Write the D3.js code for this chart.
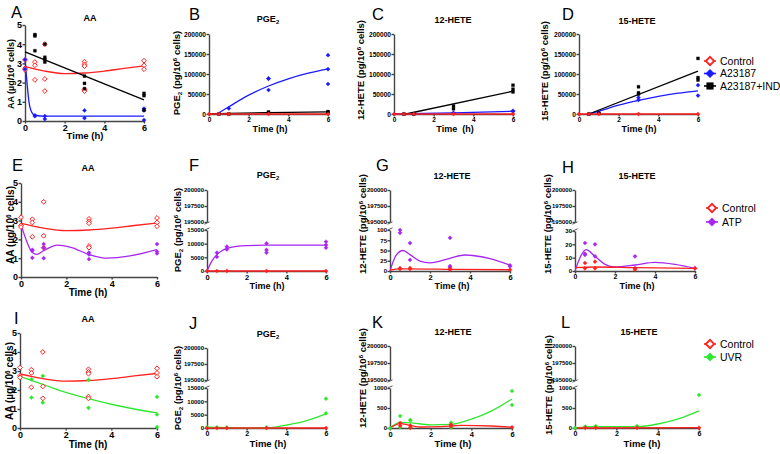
<!DOCTYPE html>
<html><head><meta charset="utf-8">
<script src="https://cdn.jsdelivr.net/npm/d3@7"></script>
<style>
body{margin:0;background:#fff}
svg{display:block}
text{font-family:"Liberation Sans",Arial,sans-serif}
</style>
</head><body>
<svg id="fig" width="780" height="454"></svg>
<script>
// ---- data (time in h) ----
const xTicks = [0, 2, 4, 6];

// AA (ug/10^6 cells)
const aaControl = [[0,3.18],[0,2.74],[0,2.66],[0.5,3.07],[0.5,2.9],[0.5,2.14],[1,4.0],[1,2.19],[1,1.56],[3,3.09],[3,2.95],[3,2.86],[3,1.65],[3,1.56],[6,3.14],[6,2.9],[6,2.7]];
const aaControlFit = [[0,2.85],[1,2.6],[2,2.47],[3,2.5],[4,2.6],[5,2.74],[6,2.87]];
const aaA23187 = [[0,3.2],[0,2.7],[0.5,0.3],[0.5,0.25],[1,0.25],[1,0.1],[3,0.55],[3,0.15],[6,0.65],[6,0.55],[6,0.05]];
const aaA23187Fit = [[0,3.2],[0.1,2.0],[0.2,1.0],[0.3,0.55],[0.5,0.3],[1,0.25],[6,0.25]];
const aaInd = [[0.5,4.5],[0.5,4.43],[0.5,3.66],[1,4.0],[1,3.32],[1,3.2],[1,3.07],[3,2.34],[3,1.96],[3,1.68],[6,1.44],[6,1.32],[6,0.57]];
const aaIndFit = [[0,3.6],[6,1.1]];
const aaAtp = [[0.5,1.45],[0.5,1.4],[0.5,1.02],[1,1.75],[1,1.55],[1,1.0],[3,1.3],[3,1.2],[3,0.95],[6,1.75],[6,1.35],[6,1.25]];
const aaAtpFit = [[0,2.8],[0.25,1.9],[0.5,1.3],[0.7,1.2],[1,1.4],[1.6,1.7],[2.2,1.58],[3,1.2],[3.8,1.0],[4.8,1.12],[6,1.45]];
const aaUvr = [[0.5,2.56],[0.5,1.6],[1,2.74],[1,1.34],[3,2.53],[3,1.06],[6,1.64],[6,0.71],[6,0.05]];
const aaUvrFit = [[0,2.72],[1,2.3],[2,1.88],[3,1.55],[4,1.25],[5,1.0],[6,0.8]];

// zero control used in eicosanoid panels
const zeroControl = [[0,0],[0.5,0],[1,0],[3,0],[6,0]];
const zeroFit = [[0,0],[6,0]];

// PGE2 (pg/10^6 cells)
const pgeA23187 = [[0.5,0],[1,14000],[3,89000],[3,88000],[3,60000],[6,147000],[6,112000],[6,75000]];
const pgeA23187Fit = [[0.4,0],[1,18000],[2,47000],[3,70000],[4,88000],[5,102000],[6,113000]];
const pgeInd = [[0.5,0],[1,0],[3,5000],[3,3000],[6,6000],[6,4000]];
const pgeIndFit = [[0,0],[1,1500],[3,3500],[6,5500]];
const pgeAtp = [[0.5,6700],[0.5,5200],[1,8900],[1,7900],[3,10100],[3,7700],[3,6700],[6,10700],[6,9500],[6,8500]];
const pgeAtpFit = [[0,0],[0.25,3700],[0.5,6000],[0.75,7400],[1,8200],[1.5,9000],[2,9300],[3,9450],[6,9500]];
const pgeUvr = [[0,300],[0.5,200],[1,200],[3,200],[6,11000],[6,5500]];
const pgeUvrFit = [[0,300],[1,150],[2,50],[3,0],[4,1100],[5,2700],[6,5300]];

// 12-HETE
const h12A23187 = [[0.5,0],[1,0],[3,3000],[6,8000],[6,6000]];
const h12A23187Fit = [[0,0],[3,3000],[6,7000]];
const h12Ind = [[0.5,0],[1,0],[3,20000],[3,13000],[6,72000],[6,62000],[6,55000]];
const h12IndFit = [[0.6,0],[6,57000]];
const h12AtpControl = [[0.5,7],[0.5,5],[1,7],[1,5],[3,5],[3,3],[6,3]];
const h12AtpControlFit = [[0,2],[0.5,5],[1,5],[3,4],[6,3]];
const h12Atp = [[0.5,100],[0.5,93],[1,68],[1,27],[3,81],[3,12],[3,9],[6,14],[6,11]];
const h12AtpFit = [[0,0],[0.3,38],[0.65,50],[1,40],[1.5,24],[2,20],[3,31],[3.75,39],[5,30],[6,14]];
const h12UvrControl = [[0.5,125],[0.5,58],[1,58],[1,5],[3,83],[3,42],[6,17]];
const h12UvrControlFit = [[0,0],[0.5,110],[1,65],[1.5,25],[2.5,35],[3.5,65],[5,50],[6,20]];
const h12Uvr = [[0,0],[0.5,300],[0.5,20],[1,200],[1,190],[1,10],[3,133],[3,10],[6,925],[6,575]];
const h12UvrFit = [[0,0],[0.5,140],[1,130],[2,80],[3,90],[4,220],[5,430],[6,725]];

// 15-HETE
const h15A23187 = [[0.5,0],[1,3000],[3,41000],[3,35000],[6,72000],[6,46000]];
const h15A23187Fit = [[0.5,0],[1,7000],[2,22000],[3,34000],[4,44000],[5,52000],[6,58000]];
const h15Ind = [[0.5,0],[1,2000],[3,68000],[3,53000],[3,50000],[6,139000],[6,91000],[6,85000]];
const h15IndFit = [[0.5,0],[6,107000]];
const h15AtpControl = [[0.5,6],[0.5,2],[1,7],[1,2],[3,2],[3,1],[6,2]];
const h15AtpControlFit = [[0,2.5],[1,3],[3,2.5],[6,2]];
const h15Atp = [[0.5,21],[0.5,13],[0.5,12],[1,20],[1,11],[3,11],[3,2],[6,2]];
const h15AtpFit = [[0,0],[0.25,10],[0.55,16],[1,11],[1.5,5],[2,3],[3,4.5],[4,6.5],[5,5],[6,2]];
const h15UvrControl = [[0.5,5],[1,5],[3,5],[6,5]];
const h15UvrControlFit = [[0,0],[6,10]];
const h15Uvr = [[0,0],[0.5,35],[0.5,10],[1,50],[1,20],[3,50],[3,20],[6,825]];
const h15UvrFit = [[0,0],[0.5,30],[1,35],[3,35],[4,100],[5,230],[6,430]];

// axis ticks
const upperTicks = [195000, 197500, 200000];
const fullTicks = [0, 50000, 100000, 150000, 200000];
const aaTicks = [0, 1, 2, 3, 4, 5];

const RED = '#ff2020', BLUE = '#1a1aff', BLACK = '#000', PURPLE = '#a726f0', GREEN = '#2ee82e';

const svg = d3.select('#fig');

function shapePath(shape, r) {
  if (shape === 'square') return `M${-r},${-r}H${r}V${r}H${-r}Z`;
  return `M0,${-r}L${r},0L0,${r}L${-r},0Z`;
}

function richText(sel, parts) {
  parts.forEach(p => {
    const t = sel.append('tspan').text(p[0]);
    if (p[1] === 'sup') t.attr('font-size', '0.65em').attr('dy', '-0.45em');
    if (p[1] === 'sub') t.attr('font-size', '0.65em').attr('dy', '0.3em');
    if (p[1] === 'back-sup') t.attr('dy', '0.3em');
    if (p[1] === 'back-sub') t.attr('dy', '-0.2em');
  });
}

function unitParts(name, unit) {
  if (name === 'PGE2') return [['PGE'], ['2','sub'], [' (' + unit + '/10', 'back-sub'], ['6','sup'], [' cells)', 'back-sup']];
  return [[name + ' (' + unit + '/10'], ['6','sup'], [' cells)', 'back-sup']];
}

function panel(c) {
  const g = svg.append('g');
  const x = d3.scaleLinear().domain([0, 6]).range([c.x0, c.x1]);
  let y;
  if (c.lowMax !== undefined) {
    y = d3.scaleLinear().domain([0, c.lowMax]).range(c.lowRange).clamp(true);
    const hi = d3.scaleLinear().domain([195000, 200000]).range(c.upRange);
    const ya = g.append('g').attr('transform', `translate(${c.x0},0)`)
      .call(d3.axisLeft(y).tickValues(c.lowTicks).tickSize(2.5).tickSizeOuter(0).tickFormat(d3.format('d')));
    const yb = g.append('g').attr('transform', `translate(${c.x0},0)`)
      .call(d3.axisLeft(hi).tickValues(upperTicks).tickSize(2.5).tickSizeOuter(0).tickFormat(d3.format('d')));
    [ya, yb].forEach(a => {
      a.selectAll('text').attr('font-size', c.yfs).attr('font-weight', 'bold').attr('x', -3);
    });
    // break marks
    [c.upRange[0] + 1, c.lowRange[1] - 1].forEach(yy => {
      g.append('line').attr('x1', c.x0 - 2.5).attr('x2', c.x0 + 2.5)
        .attr('y1', yy + 1.2).attr('y2', yy - 1.2).attr('stroke', '#555').attr('stroke-width', 1);
    });
  } else {
    y = d3.scaleLinear().domain(c.yDomain).range(c.yRange);
    const ya = g.append('g').attr('transform', `translate(${c.x0},0)`)
      .call(d3.axisLeft(y).tickValues(c.yTicks).tickSize(2.5).tickSizeOuter(0).tickFormat(d3.format('d')));
    ya.selectAll('text').attr('font-size', c.yfs).attr('font-weight', 'bold').attr('x', -3);
  }
  const xa = g.append('g').attr('transform', `translate(0,${c.baseY})`)
    .call(d3.axisBottom(x).tickValues(xTicks).tickSize(2.5).tickSizeOuter(0).tickFormat(d3.format('d')));
  xa.selectAll('text').attr('font-size', c.xfs).attr('font-weight', 'bold').attr('y', 3.5);
  g.selectAll('.domain, .tick line').attr('stroke', '#444').attr('stroke-width', 1.4);

  const line = d3.line().x(d => x(d[0])).y(d => y(d[1])).curve(d3.curveMonotoneX);
  c.series.forEach(s => {
    g.append('path').attr('d', line(s.fit)).attr('fill', 'none')
      .attr('stroke', s.color).attr('stroke-width', 1.3);
  });
  c.series.forEach(s => {
    g.selectAll(null).data(s.pts).enter().append('path')
      .attr('transform', d => `translate(${x(d[0])},${y(d[1])})`)
      .attr('d', shapePath(s.shape, s.open ? 2.4 : (s.shape === 'square' ? 1.5 : 2.1)))
      .attr('fill', s.open ? '#fff' : s.color)
      .attr('stroke', s.color).attr('stroke-width', s.open ? 1 : 0.3);
  });

  // titles and labels
  const t = g.append('text').attr('x', c.title[1]).attr('y', c.title[2])
    .attr('text-anchor', 'middle').attr('font-size', 9).attr('font-weight', 'bold');
  if (c.title[0] === 'PGE2') richText(t, [['PGE'], ['2', 'sub']]); else t.text(c.title[0]);

  g.append('text').attr('x', c.time[0]).attr('y', c.time[1]).attr('text-anchor', 'middle')
    .attr('font-size', c.tfs).attr('font-weight', 'bold').attr('xml:space', 'preserve').text(c.timeText || 'Time (h)');

  const yl = g.append('text').attr('transform', `translate(${c.ylab[0]},${c.ylab[1]}) rotate(-90)`)
    .attr('text-anchor', 'middle').attr('font-size', c.ylfs).attr('font-weight', 'bold');
  richText(yl, unitParts(c.yname, c.unit));

  svg.append('text').attr('x', c.letter[1]).attr('y', c.letter[2]).attr('font-size', 16.5)
    .attr('font-weight', 'normal').text(c.letter[0]);
}

function legend(x0, y0, items) {
  items.forEach((it, i) => {
    const yy = y0 + i * it.dy;
    const g = svg.append('g');
    g.append('line').attr('x1', x0 - 6).attr('x2', x0 + 6).attr('y1', yy).attr('y2', yy)
      .attr('stroke', it.color).attr('stroke-width', 1.6);
    g.append('path').attr('transform', `translate(${x0},${yy})`)
      .attr('d', shapePath(it.shape, it.shape === 'square' ? 3.3 : 4.2))
      .attr('fill', it.open ? '#fff' : it.color).attr('stroke', it.color).attr('stroke-width', it.open ? 1.8 : 0.5);
    g.append('text').attr('x', x0 + 10).attr('y', yy + 3.8).attr('font-size', 10.5).text(it.label);
  });
}

const ctrlOpen = (pts, fit) => ({ pts, fit, color: RED, open: true });
const ctrlFill = (pts, fit) => ({ pts, fit, color: RED });

// ---- row 1 ----
panel({ letter: ['A', 11, 18], x0: 25, x1: 144, baseY: 121, yDomain: [0, 5], yRange: [121, 25], yTicks: aaTicks,
  yfs: 9, xfs: 9, tfs: 9.5, ylfs: 9, title: ['AA', 90, 21], time: [85, 139], ylab: [14, 74], yname: 'AA', unit: 'µg',
  series: [ctrlOpen(aaControl, aaControlFit),
    { pts: aaA23187, fit: aaA23187Fit, color: BLUE },
    { pts: aaInd, fit: aaIndFit, color: BLACK, shape: 'square' }] });
panel({ letter: ['B', 189, 20], x0: 209, x1: 328, baseY: 114, yDomain: [0, 200000], yRange: [114, 34], yTicks: fullTicks,
  yfs: 6.6, xfs: 6.5, tfs: 9, ylfs: 9.5, title: ['PGE2', 268, 22], time: [270, 132], ylab: [180, 73], yname: 'PGE2', unit: 'pg',
  series: [{ pts: pgeA23187, fit: pgeA23187Fit, color: BLUE },
    { pts: pgeInd, fit: pgeIndFit, color: BLACK, shape: 'square' }, ctrlFill(zeroControl, zeroFit)] });
panel({ letter: ['C', 372, 20], x0: 394, x1: 513, baseY: 114, yDomain: [0, 200000], yRange: [114, 34], yTicks: fullTicks,
  yfs: 6.6, xfs: 6.5, tfs: 9, ylfs: 9.5, title: ['12-HETE', 453, 23], time: [455, 132], timeText: 'Time  (h)', ylab: [364, 70], yname: '12-HETE', unit: 'pg',
  series: [{ pts: h12A23187, fit: h12A23187Fit, color: BLUE },
    { pts: h12Ind, fit: h12IndFit, color: BLACK, shape: 'square' }, ctrlFill(zeroControl, zeroFit)] });
panel({ letter: ['D', 562, 20], x0: 579, x1: 698, baseY: 114, yDomain: [0, 200000], yRange: [114, 34], yTicks: fullTicks,
  yfs: 6.6, xfs: 6.5, tfs: 9, ylfs: 9.5, title: ['15-HETE', 637, 24], time: [639, 132], ylab: [548, 71], yname: '15-HETE', unit: 'pg',
  series: [{ pts: h15A23187, fit: h15A23187Fit, color: BLUE },
    { pts: h15Ind, fit: h15IndFit, color: BLACK, shape: 'square' }, ctrlFill(zeroControl, zeroFit)] });
legend(710, 61, [{ label: 'Control', color: RED, open: true, dy: 12.5 },
  { label: 'A23187', color: BLUE, dy: 12.5 }, { label: 'A23187+IND', color: BLACK, shape: 'square', dy: 12.5 }]);

// ---- row 2 ----
panel({ letter: ['E', 12, 171], x0: 21, x1: 157, baseY: 277, yDomain: [0, 5], yRange: [277, 183], yTicks: aaTicks,
  yfs: 9, xfs: 9, tfs: 10, ylfs: 10, title: ['AA', 88, 171], time: [88, 296], ylab: [14, 225], yname: 'AA', unit: 'µg',
  series: [ctrlOpen(aaControl, aaControlFit), { pts: aaAtp, fit: aaAtpFit, color: PURPLE }] });
panel({ letter: ['F', 189, 171], x0: 207, x1: 326, baseY: 271, lowMax: 15000, lowRange: [271, 230], upRange: [222, 190],
  lowTicks: [0, 5000, 10000, 15000], yfs: 6, xfs: 7.5, tfs: 9, ylfs: 9.5, title: ['PGE2', 268, 178], time: [267, 289],
  ylab: [181, 230], yname: 'PGE2', unit: 'pg',
  series: [{ pts: pgeAtp, fit: pgeAtpFit, color: PURPLE }, ctrlFill(zeroControl, zeroFit)] });
panel({ letter: ['G', 376, 171], x0: 390, x1: 510, baseY: 271, lowMax: 100, lowRange: [271, 230], upRange: [222, 190],
  lowTicks: [0, 25, 50, 75, 100], yfs: 6, xfs: 7.5, tfs: 9, ylfs: 9.5, title: ['12-HETE', 452, 179], time: [452, 289],
  ylab: [366, 224], yname: '12-HETE', unit: 'pg',
  series: [{ pts: h12Atp, fit: h12AtpFit, color: PURPLE }, ctrlFill(h12AtpControl, h12AtpControlFit)] });
panel({ letter: ['H', 562, 173], x0: 575, x1: 695, baseY: 271, lowMax: 30, lowRange: [271, 231], upRange: [222, 190],
  lowTicks: [0, 10, 20, 30], yfs: 6, xfs: 7, tfs: 9, ylfs: 9.5, title: ['15-HETE', 637, 179], time: [637, 289],
  ylab: [551, 224], yname: '15-HETE', unit: 'pg',
  series: [{ pts: h15Atp, fit: h15AtpFit, color: PURPLE }, ctrlFill(h15AtpControl, h15AtpControlFit)] });
legend(712, 208, [{ label: 'Control', color: RED, open: true, dy: 14 }, { label: 'ATP', color: PURPLE, dy: 14 }]);

// ---- row 3 ----
panel({ letter: ['I', 14, 324], x0: 20, x1: 157, baseY: 428, yDomain: [0, 5], yRange: [428, 333], yTicks: aaTicks,
  yfs: 9, xfs: 9, tfs: 10, ylfs: 10, title: ['AA', 88, 322], time: [88, 448], ylab: [13, 381], yname: 'AA', unit: 'µg',
  series: [ctrlOpen(aaControl, aaControlFit), { pts: aaUvr, fit: aaUvrFit, color: GREEN }] });
panel({ letter: ['J', 189, 329], x0: 207, x1: 326, baseY: 428, lowMax: 15000, lowRange: [428, 388], upRange: [380, 348],
  lowTicks: [0, 5000, 10000, 15000], yfs: 6, xfs: 7, tfs: 9.5, ylfs: 9.5, title: ['PGE2', 268, 337], time: [268, 447],
  ylab: [181, 388], yname: 'PGE2', unit: 'pg',
  series: [{ pts: pgeUvr, fit: pgeUvrFit, color: GREEN }, ctrlFill(zeroControl, zeroFit)] });
panel({ letter: ['K', 372, 328], x0: 390, x1: 512, baseY: 428, lowMax: 1000, lowRange: [428, 388], upRange: [380, 346],
  lowTicks: [0, 500, 1000], yfs: 6, xfs: 7.5, tfs: 9.5, ylfs: 9.5, title: ['12-HETE', 453, 335], time: [453, 447],
  ylab: [366, 378], yname: '12-HETE', unit: 'pg',
  series: [{ pts: h12Uvr, fit: h12UvrFit, color: GREEN }, ctrlFill(h12UvrControl, h12UvrControlFit)] });
panel({ letter: ['L', 561, 328], x0: 575, x1: 699, baseY: 428, lowMax: 1000, lowRange: [428, 388], upRange: [380, 346],
  lowTicks: [0, 500, 1000], yfs: 6, xfs: 7, tfs: 9.5, ylfs: 9.5, title: ['15-HETE', 639, 335], time: [642, 447],
  ylab: [552, 385], yname: '15-HETE', unit: 'pg',
  series: [{ pts: h15Uvr, fit: h15UvrFit, color: GREEN }, ctrlFill(h15UvrControl, h15UvrControlFit)] });
legend(710, 344, [{ label: 'Control', color: RED, open: true, dy: 13 }, { label: 'UVR', color: GREEN, dy: 13 }]);
</script>
</body></html>
